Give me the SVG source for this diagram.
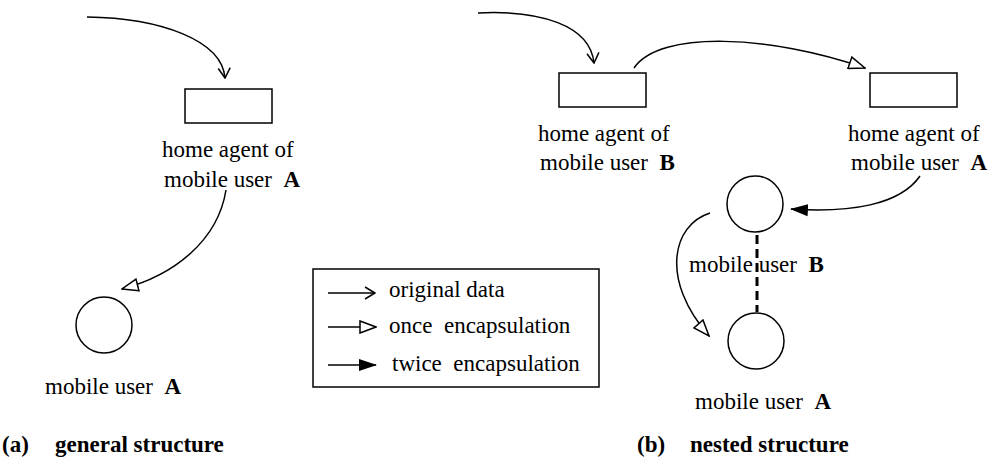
<svg xmlns="http://www.w3.org/2000/svg" width="991" height="461" viewBox="0 0 991 461" font-family="'Liberation Serif', 'Times New Roman', Times, serif">
  <style>
    text { font-family: 'Liberation Serif', 'Times New Roman', Times, serif; font-size: 23px; fill: #000; white-space: pre; }
    .b { font-weight: bold; }
    .box { fill: #fff; stroke: #000; stroke-width: 1.5; }
    .wire { fill: none; stroke: #000; stroke-width: 1.5; }
    .dash { fill: none; stroke: #000; stroke-width: 3; stroke-dasharray: 9 5; }
  </style>
  <defs>
    <marker id="vee" markerUnits="userSpaceOnUse" viewBox="0 0 12 14" refX="11" refY="7" markerWidth="12" markerHeight="14" orient="auto">
      <path d="M1,1 L11,7 L1,13" fill="none" stroke="#000" stroke-width="1.5"/>
    </marker>
    <marker id="open" markerUnits="userSpaceOnUse" viewBox="0 0 18 14" refX="17" refY="7" markerWidth="18" markerHeight="14" orient="auto">
      <path d="M1,1 L17,7 L1,13 Z" fill="#fff" stroke="#000" stroke-width="1.5"/>
    </marker>
    <marker id="solid" markerUnits="userSpaceOnUse" viewBox="0 0 18 14" refX="17" refY="7" markerWidth="18" markerHeight="14" orient="auto">
      <path d="M0,1 L18,7 L0,13 Z" fill="#000"/>
    </marker>
  </defs>

  <!-- (a) general structure -->
  <g id="ha-a-left">
    <rect class="box" x="185" y="89" width="87" height="34"/>
    <text x="162" y="157">home agent of</text>
    <text x="164" y="187">mobile user  <tspan class="b">A</tspan></text>
  </g>
  <g id="mu-a-left">
    <circle class="box" cx="104" cy="325" r="28"/>
    <text x="45" y="394">mobile user  <tspan class="b">A</tspan></text>
  </g>

  <!-- (b) nested structure -->
  <g id="ha-b">
    <rect class="box" x="559" y="73" width="87" height="34"/>
    <text x="538" y="141">home agent of</text>
    <text x="540" y="170">mobile user  <tspan class="b">B</tspan></text>
  </g>
  <g id="ha-a-right">
    <rect class="box" x="870" y="73" width="87" height="34"/>
    <text x="848" y="141">home agent of</text>
    <text x="851" y="170">mobile user  <tspan class="b">A</tspan></text>
  </g>
  <g id="mu-b">
    <circle class="box" cx="755" cy="204" r="28"/>
  </g>
  <g id="mu-a-right">
    <circle class="box" cx="756" cy="341" r="28"/>
    <text x="695" y="409">mobile user  <tspan class="b">A</tspan></text>
  </g>

  <g id="connectors">
    <path class="wire" d="M87,17 C160,18 222,40 225,78" marker-end="url(#vee)"/>
    <path class="wire" d="M226,190 C218,240 175,275 122,289" marker-end="url(#open)"/>
    <path class="wire" d="M478,13 C540,10 590,25 594,63" marker-end="url(#vee)"/>
    <path class="wire" d="M634,68 C660,30 770,35 865,68" marker-end="url(#open)"/>
    <path class="wire" d="M920,176 C900,205 850,213 791,209" marker-end="url(#solid)"/>
    <path class="wire" d="M710,213 C672,225 660,280 709,336" marker-end="url(#open)"/>
    <line class="dash" x1="757" y1="235" x2="757" y2="312"/>
  </g>

  <!-- label sitting over the dashed link -->
  <text x="689" y="272">mobile user  <tspan class="b">B</tspan></text>

  <g id="legend">
    <rect class="box" x="313" y="269" width="286" height="118"/>
    <line class="wire" x1="328" y1="293" x2="375" y2="293" marker-end="url(#vee)"/>
    <line class="wire" x1="328" y1="327" x2="376" y2="327" marker-end="url(#open)"/>
    <line class="wire" x1="328" y1="365" x2="376" y2="365" marker-end="url(#solid)"/>
    <text x="389" y="297">original data</text>
    <text x="389" y="333">once  encapsulation</text>
    <text x="392" y="371">twice  encapsulation</text>
  </g>

  <g id="captions">
    <text class="b" x="2" y="452">(a)</text>
    <text class="b" x="55" y="452">general structure</text>
    <text class="b" x="637" y="452">(b)</text>
    <text class="b" x="690" y="452">nested structure</text>
  </g>
</svg>
